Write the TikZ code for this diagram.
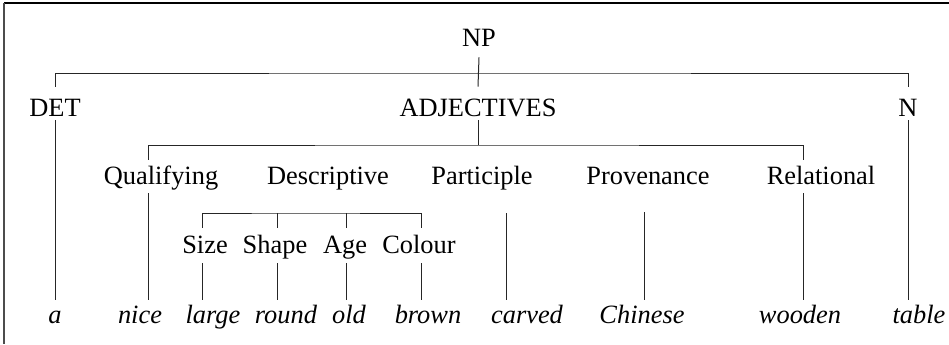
\documentclass[tikz,border=0pt]{standalone}
\usepackage{fontspec}
\setmainfont{Liberation Serif}
\begin{document}
\begin{tikzpicture}[x=0.5pt,y=-0.5pt,
  lbl/.style={inner sep=0pt,anchor=base,font=\fontsize{13.2}{15}\selectfont},
  rowa/.style={lbl,text height=9pt,text depth=5.5pt},
  rowb/.style={lbl,text height=14.5pt,text depth=2pt},
  rowc/.style={lbl,text height=12pt,text depth=4.5pt},
  rowd/.style={lbl,text height=12.5pt,text depth=5pt},
  rowe/.style={lbl,text height=11.5pt,text depth=3pt,font=\fontsize{13.2}{15}\selectfont\itshape},
  edge/.style={draw=black!85,line width=0.5pt},
  frame/.style={line width=0.6pt}]
\useasboundingbox (0,0) rectangle (949,344);
% frame (top and left only)
\draw[frame,draw=black] (4,3) -- (949,3);
\draw[line width=0.9pt,draw=black!70] (4,3) -- (4,344);

% nodes
\node[rowa] (NP) at (479,46) {NP};
\node[rowb] (DET) at (55,116) {DET};
\node[rowb] (ADJ) at (478,116) {ADJECTIVES};
\node[rowb] (N) at (908,116) {N};

\node[rowc] (Q) at (161,184) {Qualifying};
\node[rowc] (D) at (328,184) {Descriptive};
\node[rowc] (P) at (482,184) {Participle};
\node[rowc] (Pr) at (648,184) {Provenance};
\node[rowc] (R) at (821,184) {Relational};

\node[rowd] (Si) at (205,253) {Size};
\node[rowd] (Sh) at (275,253) {Shape};
\node[rowd] (Ag) at (345,253) {Age};
\node[rowd] (Co) at (419,253) {Colour};

\node[rowe] (a) at (55,323) {a};
\node[rowe] (nice) at (140,323) {nice};
\node[rowe] (large) at (213,323) {large};
\node[rowe] (round) at (286,323) {round};
\node[rowe] (old) at (349,323) {old};
\node[rowe] (brown) at (428,323) {brown};
\node[rowe] (carved) at (527,323) {carved};
\node[rowe] (Chinese) at (642,323) {Chinese};
\node[rowe] (wooden) at (800,323) {wooden};
\node[rowe] (table) at (919,323) {table};

% column x positions
\coordinate (xq) at (148,0);
\coordinate (x1) at (202,0);
\coordinate (x2) at (277,0);
\coordinate (x3) at (346,0);
\coordinate (x4) at (421,0);
\coordinate (xp) at (506,0);
\coordinate (xv) at (644,0);
\coordinate (xr) at (803,0);
\coordinate (xn) at (908,0);

% bars
\coordinate (b1) at (478,73);
\coordinate (b2) at (478,145);
\coordinate (b3) at (300,213);
\coordinate (pend) at (506,213);
\coordinate (vend) at (644,212);

\draw[edge] (DET.north) |- (b1) -| (N.north);
\draw[edge] (NP.south) -- (ADJ.north);
\draw[edge] (ADJ.south) -- (b2);
\draw[edge] (Q.north -| xq) |- (b2) -| (R.north -| xr);
\draw[edge] (Si.north -| x1) |- (b3) -| (Co.north -| x4);
\draw[edge] (b3 -| x2) -- (Sh.north -| x2);
\draw[edge] (b3 -| x3) -- (Ag.north -| x3);

% lower connectors
\draw[edge] (DET.south) -- (a.north -| DET.south);
\draw[edge] (Q.south -| xq) -- (nice.north -| xq);
\draw[edge] (Si.south -| x1) -- (large.north -| x1);
\draw[edge] (Sh.south -| x2) -- (round.north -| x2);
\draw[edge] (Ag.south -| x3) -- (old.north -| x3);
\draw[edge] (Co.south -| x4) -- (brown.north -| x4);
\draw[edge] (pend) -- (carved.north -| xp);
\draw[edge] (vend) -- (Chinese.north -| xv);
\draw[edge] (R.south -| xr) -- (wooden.north -| xr);
\draw[edge] (N.south) -- (table.north -| xn);
\end{tikzpicture}
\end{document}
